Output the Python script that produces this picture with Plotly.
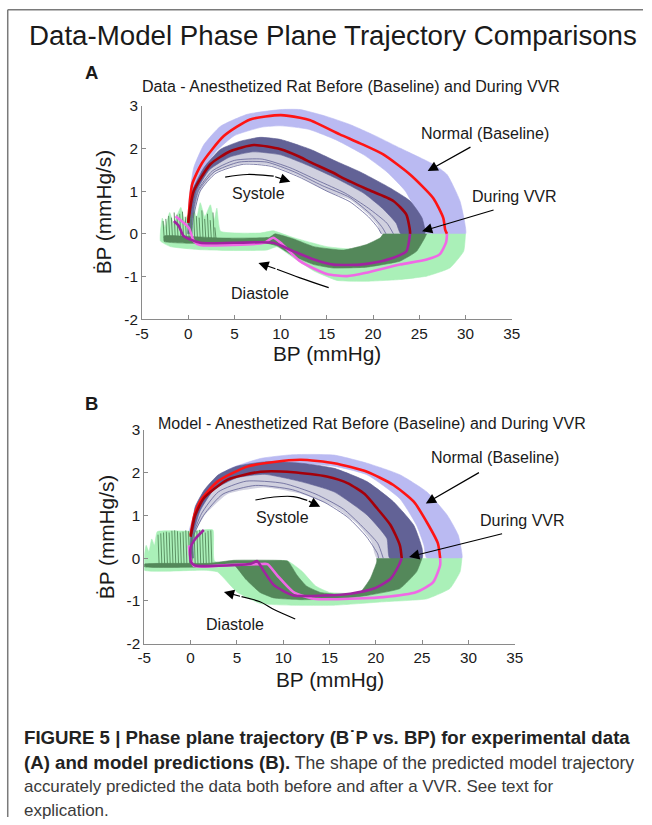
import plotly.graph_objects as go

W, H = 652, 825
FONT = "Liberation Sans, Arial, sans-serif"
# the photographed page appears shrunk by ~0.977 and shifted by a few px; positions below are given in
# reference-picture pixels and mapped back to page pixels
SHRINK, SHIFT_X, SHIFT_Y = 0.977, 6.5, 8.5

# ---------------- tick labels ----------------
X_TICKS = [-5, 0, 5, 10, 15, 20, 25, 30, 35]
X_TICK_TEXT = ["-5", "0", "5", "10", "15", "20", "25", "30", "35"]
Y_TICKS = [-2, -1, 0, 1, 2, 3]
Y_TICK_TEXT = ["-2", "-1", "0", "1", "2", "3"]

# ---------------- Panel A (experimental data) ----------------
A_NORM_SYS_MEAN = [(0.0, 0.26), (0.43, 1.16), (1.5, 1.66), (3.85, 2.29), (6.7, 2.68), (10.0, 2.78),
                   (12.1, 2.72), (13.2, 2.66), (16.4, 2.33), (18.6, 2.12), (21.1, 1.86), (24.0, 1.39),
                   (26.5, 0.84), (27.6, 0.37), (27.8, 0.1), (28.0, 0.0)]
A_NORM_DIA_MEAN = [(28.0, 0.0), (27.9, -0.2), (27.2, -0.48), (25.8, -0.6), (22.9, -0.72), (19.3, -0.91),
                   (17.2, -0.99), (15.0, -0.94), (12.1, -0.64), (10.0, -0.21), (9.2, -0.09), (8.2, -0.21),
                   (4.9, -0.26), (1.3, -0.26), (0.6, -0.17), (0.07, 0.14), (-1.37, 0.41)]
A_VVR_SYS_MEAN = [(0.0, 0.26), (0.6, 1.0), (2.4, 1.63), (4.6, 1.94), (7.1, 2.08), (10.0, 1.98),
                  (12.1, 1.8), (13.2, 1.68), (15.7, 1.43), (16.8, 1.3), (19.3, 1.05), (22.2, 0.77),
                  (23.6, 0.45), (24.0, 0.06), (24.0, 0.0)]
A_VVR_DIA_MEAN = [(24.0, 0.0), (23.6, -0.41), (22.2, -0.56), (20.5, -0.66), (18.6, -0.72), (15.7, -0.72),
                  (13.6, -0.6), (11.4, -0.41), (9.2, -0.21), (4.9, -0.21), (1.3, -0.21), (-0.5, -0.05),
                  (-1.0, 0.18), (-1.55, 0.3)]

A_NORM_SYS_OUTER = [(-0.1, 0.0), (0.0, 0.3), (0.07, 0.77), (0.6, 1.55), (1.7, 2.09), (3.5, 2.52), (6.4, 2.8),
                    (10.0, 2.91), (12.1, 2.91), (14.8, 2.76), (17.5, 2.56), (20.2, 2.3), (22.9, 2.01),
                    (26.5, 1.63), (28.0, 1.39), (29.4, 0.77), (29.95, 0.22), (30.0, 0.0)]
A_NORM_SYS_INNER = [(0.3, 0.0), (0.35, 0.3), (0.7, 1.0), (1.6, 1.5), (3.1, 1.95), (5.0, 2.3), (8.0, 2.5),
                    (10.0, 2.53), (13.0, 2.45), (16.0, 2.2), (19.0, 1.85), (21.5, 1.45), (23.5, 1.0),
                    (24.7, 0.5), (25.2, 0.0)]
A_NORM_DIA_OUTER = [(30.0, 0.0), (29.8, -0.41), (28.3, -0.8), (25.8, -0.99), (22.9, -1.07), (19.3, -1.11),
                    (16.1, -1.09), (13.6, -0.87), (11.4, -0.56), (9.6, -0.3), (8.5, -0.38), (4.9, -0.39),
                    (1.3, -0.37), (-1.9, -0.3), (-3.0, -0.17)]
A_NORM_DIA_TOP = [(-3.0, 0.05), (-2.8, 0.37), (-2.5, 0.15), (-2.0, 0.5), (-1.6, 0.25), (-0.8, 0.62),
                  (-0.4, 0.3), (0.5, 0.7), (0.9, 0.35), (1.3, 0.73), (1.8, 0.4), (2.4, 0.68), (2.8, 0.3),
                  (3.1, 0.6), (3.5, 0.06), (7.8, 0.02), (9.2, 0.07), (11.4, -0.09), (15.0, -0.3),
                  (18.0, -0.36), (20.0, -0.25), (21.2, 0.0)]
A_VVR_SYS_OUTER = [(-0.05, 0.0), (0.0, 0.3), (0.43, 1.0), (1.7, 1.55), (3.5, 1.98), (5.65, 2.17), (7.8, 2.26),
                   (10.0, 2.21), (13.2, 1.98), (16.0, 1.7), (18.6, 1.45), (21.8, 1.08), (24.0, 0.77),
                   (25.3, 0.37), (25.6, 0.0)]
A_VVR_SYS_CORE_INNER = [(0.25, 0.0), (0.3, 0.3), (0.9, 1.0), (2.3, 1.5), (4.5, 1.8), (7.0, 1.92), (10.0, 1.85),
                        (13.0, 1.6), (16.0, 1.3), (19.0, 0.95), (21.0, 0.6), (22.5, 0.25), (23.0, 0.0)]
A_VVR_SYS_FRINGE_INNER = [(0.4, 0.0), (0.5, 0.3), (1.3, 1.0), (3.0, 1.45), (6.0, 1.65), (9.0, 1.6),
                          (12.0, 1.35), (15.0, 1.0), (17.5, 0.8), (19.5, 0.45), (20.5, 0.2), (20.9, 0.0)]
A_VVR_SYS_THIN = [
    [(0.3, 0.0), (0.35, 0.3), (1.0, 1.0), (2.6, 1.47), (5.0, 1.72), (8.0, 1.75), (11.0, 1.55), (14.0, 1.25),
     (17.0, 0.95), (19.5, 0.6), (21.5, 0.25), (22.2, 0.0)],
    [(0.35, 0.0), (0.4, 0.3), (1.1, 1.0), (2.8, 1.45), (5.5, 1.68), (8.5, 1.68), (11.5, 1.45), (14.5, 1.13),
     (17.5, 0.85), (19.8, 0.45), (21.0, 0.15), (21.4, 0.0)],
    [(0.4, 0.0), (0.5, 0.3), (1.3, 1.0), (3.0, 1.42), (6.0, 1.63), (9.0, 1.58), (12.0, 1.33), (15.0, 1.0),
     (17.5, 0.75), (19.5, 0.4), (20.5, 0.15), (20.9, 0.0)],
]
A_VVR_DIA_LOWER = [(25.8, 0.0), (25.6, -0.09), (24.7, -0.41), (22.9, -0.64), (19.3, -0.78), (15.7, -0.8),
                   (13.6, -0.72), (11.4, -0.52), (9.6, -0.28), (8.5, -0.22), (4.0, -0.22), (0.0, -0.22),
                   (-2.6, -0.18)]
A_VVR_DIA_UPPER = [(-2.6, -0.05), (0.0, -0.06), (4.0, -0.1), (8.8, -0.08), (9.4, 0.0), (11.4, -0.12),
                   (13.6, -0.3), (16.8, -0.38), (19.3, -0.25), (20.8, -0.09), (21.1, 0.0)]
A_SPIKE_X = [-2.6, -2.3, -2.0, -1.7, -1.4, -1.1, -0.8, -0.5, -0.2, 0.1, 0.4, 0.7, 1.0, 1.3, 1.6, 1.9,
             2.2, 2.5, 2.8, 3.0]
A_SPIKE_TOP = [0.3, 0.35, 0.42, 0.38, 0.5, 0.45, 0.47, 0.52, 0.4, 0.36, 0.45, 0.5, 0.42, 0.38, 0.55, 0.35,
               0.47, 0.32, 0.5, 0.15]
A_SPIKE_BASE = -0.1

# ---------------- Panel B (model) ----------------
B_NORM_SYS_MEAN = [(0.0, 0.54), (0.4, 1.0), (1.08, 1.35), (2.9, 1.79), (6.1, 2.14), (9.0, 2.25), (11.9, 2.3),
                   (15.5, 2.22), (19.05, 2.02), (21.9, 1.71), (24.1, 1.32), (25.7, 0.77), (26.7, 0.35),
                   (26.95, 0.0)]
B_NORM_DIA_MEAN = [(26.95, 0.0), (26.95, -0.16), (26.2, -0.56), (24.4, -0.79), (20.8, -0.91), (15.45, -0.96),
                   (13.3, -0.95), (11.1, -0.79), (9.35, -0.40), (8.3, -0.14), (7.5, -0.14), (3.96, -0.16),
                   (0.36, -0.18), (0.0, -0.01), (-0.18, 0.3)]
B_VVR_SYS_MEAN = [(0.0, 0.5), (0.5, 1.0), (1.43, 1.4), (3.96, 1.83), (7.55, 2.02), (11.1, 2.01), (14.7, 1.91),
                  (17.0, 1.75), (18.8, 1.5), (20.2, 1.15), (21.6, 0.77), (22.6, 0.3), (22.8, 0.0)]
B_VVR_DIA_MEAN = [(22.8, 0.0), (22.5, -0.16), (21.6, -0.48), (19.8, -0.71), (17.25, -0.83), (14.7, -0.87),
                  (11.1, -0.87), (9.0, -0.63), (7.9, -0.3), (7.2, -0.07), (6.5, -0.13), (5.0, -0.16),
                  (0.5, -0.17), (0.05, -0.1), (0.0, 0.25), (0.5, 0.45), (1.43, 0.66)]

B_NORM_SYS_OUTER = [(-0.4, 0.0), (-0.36, 0.46), (0.36, 1.01), (1.8, 1.55), (3.96, 2.06), (7.55, 2.33),
                    (11.1, 2.42), (15.5, 2.41), (19.05, 2.22), (22.6, 1.95), (25.5, 1.55), (27.7, 1.01),
                    (28.9, 0.54), (29.3, 0.11), (29.3, 0.0)]
B_NORM_SYS_INNER = [(0.2, 0.0), (0.3, 0.5), (1.0, 1.1), (2.5, 1.6), (5.0, 1.95), (8.0, 2.1), (11.9, 2.2),
                    (15.5, 2.15), (19.05, 1.95), (22.6, 1.39), (24.4, 0.77), (25.2, 0.3), (25.5, 0.0)]
B_VVR_SYS_OUTER = [(-0.1, 0.0), (0.0, 0.5), (0.5, 1.2), (1.5, 1.6), (3.0, 1.95), (5.0, 2.15), (8.0, 2.25),
                   (11.9, 2.22), (15.5, 2.1), (19.05, 1.79), (21.9, 1.32), (24.1, 0.77), (25.0, 0.23),
                   (25.0, 0.0)]
B_VVR_SYS_CORE_INNER = [(0.2, 0.0), (0.2, 0.5), (1.0, 1.1), (2.5, 1.6), (5.0, 1.88), (8.0, 1.96),
                        (11.9, 1.79), (15.5, 1.55), (19.05, 1.01), (21.2, 0.46), (21.5, 0.0)]
B_VVR_SYS_FRINGE_INNER = [(0.3, 0.0), (0.3, 0.5), (1.5, 1.0), (4.0, 1.5), (8.0, 1.65), (12.0, 1.5),
                          (15.5, 1.2), (18.0, 0.8), (19.5, 0.4), (20.1, 0.0)]
B_VVR_SYS_THIN = [
    [(0.25, 0.0), (0.25, 0.5), (1.2, 1.05), (3.0, 1.55), (6.0, 1.8), (10.0, 1.75), (13.5, 1.5), (16.5, 1.15),
     (18.5, 0.75), (20.2, 0.35), (20.8, 0.0)],
    [(0.3, 0.0), (0.3, 0.5), (1.4, 1.0), (3.5, 1.5), (7.0, 1.7), (11.0, 1.6), (14.5, 1.3), (17.0, 0.95),
     (19.0, 0.5), (20.2, 0.1), (20.3, 0.0)],
]
B_NORM_DIA_OUTER = [(29.3, 0.0), (29.1, -0.32), (28.0, -0.71), (25.5, -0.95), (20.8, -1.02), (15.5, -1.1),
                    (11.1, -1.1), (7.55, -1.06), (5.0, -0.79), (2.9, -0.32), (1.4, -0.28), (-5.0, -0.28)]
B_NORM_DIA_TOP = [(-5.0, 0.05), (-4.8, 0.3), (-4.5, 0.15), (-4.2, 0.45), (-3.9, 0.3), (-3.6, 0.62),
                  (-2.0, 0.64), (0.0, 0.63), (2.4, 0.66), (2.6, -0.07), (10.5, -0.07), (12.0, -0.3),
                  (13.5, -0.65), (15.0, -0.8), (18.0, -0.82), (20.0, -0.72), (21.5, -0.4), (22.0, -0.1),
                  (22.2, 0.0)]
B_VVR_DIA_LOWER = [(25.0, 0.0), (24.4, -0.32), (22.6, -0.71), (19.05, -0.87), (16.0, -0.95), (12.0, -0.97),
                   (9.0, -0.93), (7.5, -0.8), (6.0, -0.5), (4.6, -0.14), (2.0, -0.2), (-5.0, -0.2)]
B_VVR_DIA_UPPER = [(-5.0, -0.14), (2.0, -0.12), (4.67, -0.05), (9.35, -0.05), (10.5, -0.07), (11.5, -0.4),
                   (12.5, -0.65), (14.0, -0.8), (16.5, -0.85), (18.3, -0.8), (19.4, -0.48), (20.1, -0.09),
                   (20.1, 0.0)]
B_SPIKE_X = [-3.4, -3.1, -2.8, -2.5, -2.2, -1.9, -1.6, -1.3, -1.0, -0.7, -0.4, -0.1, 0.2, 0.5, 0.8, 1.1,
             1.4, 1.7, 2.0, 2.3]
B_SPIKE_TOP = [0.55, 0.58, 0.6, 0.62, 0.6, 0.64, 0.65, 0.63, 0.6, 0.62, 0.65, 0.63, 0.62, 0.6, 0.64, 0.66,
               0.62, 0.6, 0.64, 0.65]
B_SPIKE_BASE = -0.15

# curved arrows (path points, arrowhead at last point)
A_SYS_ARROW = [(4.0, 1.33), (6.4, 1.39), (9.25, 1.35), (11.05, 1.22)]
A_DIA_ARROW = [(15.2, -1.26), (12.1, -1.03), (9.6, -0.83), (7.6, -0.68)]
B_SYS_ARROW = [(7.0, 1.36), (9.0, 1.43), (11.1, 1.44), (12.6, 1.35), (14.0, 1.2)]
B_DIA_ARROW = [(11.3, -1.42), (9.0, -1.2), (7.5, -1.02), (5.5, -0.9), (3.6, -0.79)]
# straight arrows (tail, head)
A_NORM_ARROW = [(30.7, 2.05), (25.9, 1.47)]
A_VVR_ARROW = [(33.2, 0.57), (25.3, 0.06)]
B_NORM_ARROW = [(31.3, 2.02), (25.4, 1.28)]
B_VVR_ARROW = [(33.8, 0.58), (23.6, 0.03)]

LAV = "rgb(186,186,242)"
LGREEN = "rgb(170,240,184)"
SLATE = "rgb(98,98,150)"
DGREEN = "rgb(84,136,90)"
RED = "rgb(255,20,20)"
DRED = "rgb(165,0,10)"
PINK = "rgb(240,105,230)"
PURPLE = "rgb(160,35,160)"

fig = go.Figure()


def xs(pts):
    return [p[0] for p in pts]


def ys(pts):
    return [p[1] for p in pts]


def band(a, b, color, xa, ya, opacity=1.0, width=0.6):
    pts = list(a) + list(reversed(b))
    fig.add_trace(go.Scatter(x=xs(pts), y=ys(pts), xaxis=xa, yaxis=ya, mode="lines", fill="toself",
                             fillcolor=color, opacity=opacity,
                             line=dict(color=color, width=width, shape="spline", smoothing=0.5),
                             hoverinfo="skip", showlegend=False))


def poly(a, b, color, xa, ya):
    pts = list(a) + list(b)
    fig.add_trace(go.Scatter(x=xs(pts), y=ys(pts), xaxis=xa, yaxis=ya, mode="lines", fill="toself",
                             fillcolor=color, line=dict(color=color, width=0.6, shape="spline", smoothing=0.4),
                             hoverinfo="skip", showlegend=False))


def line(pts, color, xa, ya, width=2.6):
    fig.add_trace(go.Scatter(x=xs(pts), y=ys(pts), xaxis=xa, yaxis=ya, mode="lines",
                             line=dict(color=color, width=width, shape="spline", smoothing=0.6),
                             hoverinfo="skip", showlegend=False))


def spikes(xv, tops, base, color, xa, ya):
    sx, sy = [], []
    for x, t in zip(xv, tops):
        sx += [x, x - 0.12, None]
        sy += [base, t, None]
    fig.add_trace(go.Scatter(x=sx, y=sy, xaxis=xa, yaxis=ya, mode="lines",
                             line=dict(color=color, width=0.9), hoverinfo="skip", showlegend=False))


def curve(pts, xa, ya):
    fig.add_trace(go.Scatter(x=xs(pts[:-1]), y=ys(pts[:-1]), xaxis=xa, yaxis=ya, mode="lines",
                             line=dict(color="black", width=1.2, shape="spline", smoothing=1.0),
                             hoverinfo="skip", showlegend=False))


def panel(xa, ya, nso, nsi, ndo, ndt, vso, vsci, vsfi, thin, vdl, vdu, spx, spt, spb,
          nsm, ndm, vsm, vdm, sysarr, diaarr):
    band(nso, nsi, LAV, xa, ya)
    poly(ndo, ndt, LGREEN, xa, ya)
    band(vso, vsfi, SLATE, xa, ya, opacity=0.3, width=0.0)
    for t in thin:
        line(t, SLATE, xa, ya, width=0.8)
    band(vso, vsci, SLATE, xa, ya)
    poly(vdl, vdu, DGREEN, xa, ya)
    spikes(spx, spt, spb, DGREEN, xa, ya)
    line(nsm, RED, xa, ya)
    line(ndm, PINK, xa, ya)
    line(vsm, DRED, xa, ya)
    line(vdm, PURPLE, xa, ya)
    curve(sysarr, xa, ya)
    curve(diaarr, xa, ya)


panel("x", "y", A_NORM_SYS_OUTER, A_NORM_SYS_INNER, A_NORM_DIA_OUTER, A_NORM_DIA_TOP,
      A_VVR_SYS_OUTER, A_VVR_SYS_CORE_INNER, A_VVR_SYS_FRINGE_INNER, A_VVR_SYS_THIN,
      A_VVR_DIA_LOWER, A_VVR_DIA_UPPER,
      A_SPIKE_X, A_SPIKE_TOP, A_SPIKE_BASE, A_NORM_SYS_MEAN, A_NORM_DIA_MEAN, A_VVR_SYS_MEAN, A_VVR_DIA_MEAN,
      A_SYS_ARROW, A_DIA_ARROW)
panel("x2", "y2", B_NORM_SYS_OUTER, B_NORM_SYS_INNER, B_NORM_DIA_OUTER, B_NORM_DIA_TOP,
      B_VVR_SYS_OUTER, B_VVR_SYS_CORE_INNER, B_VVR_SYS_FRINGE_INNER, B_VVR_SYS_THIN,
      B_VVR_DIA_LOWER, B_VVR_DIA_UPPER,
      B_SPIKE_X, B_SPIKE_TOP, B_SPIKE_BASE, B_NORM_SYS_MEAN, B_NORM_DIA_MEAN, B_VVR_SYS_MEAN, B_VVR_DIA_MEAN,
      B_SYS_ARROW, B_DIA_ARROW)

AXC = "#8a8a8a"
TICKF = dict(family=FONT, size=15.3, color="#1a1a1a")
common_x = dict(range=[-5, 35], tickvals=X_TICKS, ticktext=X_TICK_TEXT, showline=True, linecolor=AXC,
                linewidth=1, ticks="inside", ticklen=4, tickcolor=AXC, showgrid=False, zeroline=False,
                tickfont=TICKF, fixedrange=True)
common_y = dict(range=[-2, 3], tickvals=Y_TICKS, ticktext=Y_TICK_TEXT, showline=True, linecolor=AXC,
                linewidth=1, ticks="inside", ticklen=4, tickcolor=AXC, showgrid=False, zeroline=False,
                tickfont=TICKF, fixedrange=True)


def pxx(r):
    return max((r - SHIFT_X) / SHRINK, 0.75) / W


def pxy(r):
    return 1 - max((r - SHIFT_Y) / SHRINK, 0.75) / H


fig.update_layout(
    width=W, height=H, margin=dict(l=0, r=0, t=0, b=0), paper_bgcolor="white", plot_bgcolor="white",
    xaxis=dict(common_x, domain=[pxx(141.7), pxx(512)], anchor="y"),
    yaxis=dict(common_y, domain=[pxy(318), pxy(105)], anchor="x"),
    xaxis2=dict(common_x, domain=[pxx(144), pxx(515)], anchor="y2"),
    yaxis2=dict(common_y, domain=[pxy(641.7), pxy(428.3)], anchor="x2"),
    font=dict(family=FONT, color="#1a1a1a"),
)

ann = []


def text(px, py, t, size, bold=False, angle=0, xanchor="center", color="#1a1a1a"):
    ann.append(dict(x=pxx(px), y=pxy(py), xref="paper", yref="paper", text=("<b>%s</b>" % t) if bold else t,
                    showarrow=False, xanchor=xanchor, yanchor="middle", textangle=angle,
                    font=dict(family=FONT, size=size, color=color)))


def head(pts, xr, yr):
    (tx, ty), (hx, hy) = pts[-2], pts[-1]
    ann.append(dict(x=hx, y=hy, ax=tx, ay=ty, xref=xr, yref=yr, axref=xr, ayref=yr, text="",
                    showarrow=True, arrowhead=2, arrowsize=1.7, arrowwidth=1.2, arrowcolor="black"))


LBL = 16.05
text(333, 35, "Data-Model Phase Plane Trajectory Comparisons", 27.7)
text(91, 72, "A", 18.5, bold=True)
text(351, 85, "Data - Anesthetized Rat Before (Baseline) and During VVR", LBL)
text(104, 211, "ḂP (mmHg/s)", 20.8, angle=-90)
text(327, 352, "BP (mmHg)", 20.8)
text(258, 192, "Systole", LBL)
text(260, 292, "Diastole", LBL)
text(485, 132, "Normal (Baseline)", LBL)
text(515, 195, "During VVR", LBL)

text(91, 402, "B", 18.5, bold=True)
text(372, 421, "Model - Anesthetized Rat Before (Baseline) and During VVR", LBL)
text(106, 535, "ḂP (mmHg/s)", 20.8, angle=-90)
text(330, 677, "BP (mmHg)", 20.8)
text(282, 515, "Systole", LBL)
text(235, 622, "Diastole", LBL)
text(495, 455, "Normal (Baseline)", LBL)
text(523, 518, "During VVR", LBL)

for p, r in [(A_SYS_ARROW, ("x", "y")), (A_DIA_ARROW, ("x", "y")), (A_NORM_ARROW, ("x", "y")),
             (A_VVR_ARROW, ("x", "y")), (B_SYS_ARROW, ("x2", "y2")), (B_DIA_ARROW, ("x2", "y2")),
             (B_NORM_ARROW, ("x2", "y2")), (B_VVR_ARROW, ("x2", "y2"))]:
    head(p, *r)

CAPB = 18.65
CAPR = 16.95
text(22, 735, "FIGURE 5 | Phase plane trajectory (B˙P vs. BP) for experimental data", CAPB, bold=True,
     xanchor="left", color="#222")
text(22, 760, "<b><span style='font-size:%spx;color:#222'>(A) and model predictions (B).</span></b>"
              " The shape of the predicted model trajectory" % CAPB, 17.6,
     xanchor="left", color="#3a3a3a")
text(22, 784, "accurately predicted the data both before and after a VVR. See text for", CAPR,
     xanchor="left", color="#3a3a3a")
text(22, 808, "explication.", CAPR, xanchor="left", color="#3a3a3a")

fig.update_layout(annotations=ann)
fig.update_layout(shapes=[
    dict(type="line", xref="paper", yref="paper", x0=pxx(6), x1=1, y0=pxy(8), y1=pxy(8),
         line=dict(color="#7a7a7a", width=1.5)),
    dict(type="line", xref="paper", yref="paper", x0=pxx(7), x1=pxx(7), y0=pxy(8), y1=0,
         line=dict(color="#7a7a7a", width=1.5)),
])

fig.write_html("out.html", config={"displayModeBar": False},
               post_script="document.body.style.margin='0';document.body.style.overflow='hidden';")
